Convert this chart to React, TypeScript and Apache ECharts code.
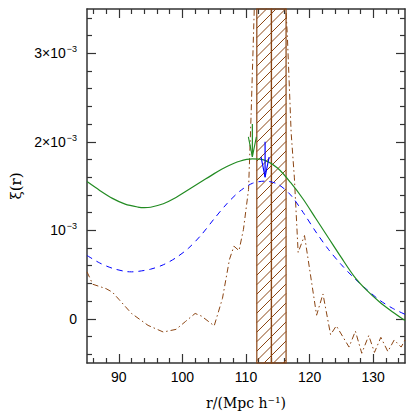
import React, { useEffect, useRef } from "react";
import * as echarts from "echarts";

// y values are in units of 1e-3
const X_MIN = 85;
const X_MAX = 135;
const Y_MIN = -0.5;
const Y_MAX = 3.5;

const xMajor = [90, 100, 110, 120, 130];
const xMinor = [86, 88, 92, 94, 96, 98, 102, 104, 106, 108, 112, 114, 116, 118, 122, 124, 126, 128, 132, 134];
const yMajor = [0, 1, 2, 3];
const yMinor = [-0.4, -0.2, 0.2, 0.4, 0.6, 0.8, 1.2, 1.4, 1.6, 1.8, 2.2, 2.4, 2.6, 2.8, 3.2, 3.4];
const yLabels = ["{n|0}", "{n|10}{s|−3}", "{n|2×10}{s|−3}", "{n|3×10}{s|−3}"];

const greenR = [85, 87, 89, 91, 93, 94, 95, 97, 99, 101, 103, 105, 107, 109, 111, 113, 115, 117, 119, 121, 123, 125, 127, 129, 131, 133, 135];
const greenXi = [1.55, 1.45, 1.36, 1.295, 1.262, 1.255, 1.26, 1.3, 1.37, 1.46, 1.55, 1.64, 1.72, 1.78, 1.806, 1.79, 1.7, 1.54, 1.35, 1.13, 0.91, 0.69, 0.48, 0.32, 0.19, 0.08, -0.02];

const blueR = [85, 87, 89, 91, 92, 93, 95, 97, 99, 101, 103, 105, 107, 109, 111, 113, 115, 117, 119, 121, 123, 125, 127, 129, 131, 133, 135];
const blueXi = [0.715, 0.63, 0.57, 0.535, 0.53, 0.535, 0.56, 0.61, 0.69, 0.8, 0.95, 1.13, 1.3, 1.44, 1.53, 1.555, 1.52, 1.4, 1.2, 0.98, 0.78, 0.61, 0.46, 0.33, 0.21, 0.12, 0.05];

const brownR = [85, 85.9, 88, 89, 90, 92, 94.6, 97, 99, 100.5, 102, 103, 105, 106.3, 107.4, 108.1, 108.9, 109.6, 110.4, 110.8, 111.3, 112, 113, 115, 116.2, 116.5, 117.1, 117.6, 118.2, 119.2, 121.1, 122.1, 123.3, 124.2, 126.2, 127.2, 128.2, 129.3, 130.2, 131.2, 132.3, 133.3, 134.4, 135];
const brownXi = [0.53, 0.39, 0.34, 0.3, 0.22, 0.06, -0.075, -0.15, -0.12, -0.03, 0.06, 0.03, -0.08, 0.23, 0.67, 0.82, 0.77, 1.01, 1.46, 2.3, 3.5, 4.8, 5.5, 5.5, 3.6, 3.2, 2.1, 1.6, 0.75, 0.94, 0.04, 0.28, -0.18, -0.08, -0.32, -0.14, -0.39, -0.19, -0.38, -0.21, -0.37, -0.24, -0.32, -0.24];

const bandLeft = [111.7, 114.0];
const bandRight = [114.0, 116.3];

const arrowR = [111.0, 113.0];
const arrowTop = [2.2, 2.0];
const arrowTip = [1.83, 1.6];
const arrowColors = ["#228B22", "#0000ff"];

const BROWN = "#8B4513";
const AXIS = "#333";

const zip = (a: number[], b: number[]) => a.map((v, i) => [v, b[i]]);

export default function App() {
  const ref = useRef<HTMLDivElement>(null);
  useEffect(() => {
    if (!ref.current) return;
    const chart = echarts.init(ref.current, null, { renderer: "svg" });
    const labelFont = { fontFamily: "Liberation Sans", fontSize: 14, color: "#000" };

    const mkX = (pos: string, ticks: number[], len: number, labels: boolean, line: boolean) => ({
      type: "value",
      position: pos,
      min: X_MIN,
      max: X_MAX,
      gridIndex: 0,
      splitLine: { show: false },
      axisLine: { show: line, onZero: false, lineStyle: { color: AXIS, width: 1.5 } },
      axisTick: { show: true, inside: true, length: len, customValues: ticks, lineStyle: { color: AXIS, width: 1.2 } },
      axisLabel: labels
        ? { show: true, customValues: xMajor, margin: 7, ...labelFont }
        : { show: false },
    });
    const mkY = (pos: string, ticks: number[], len: number, labels: boolean, line: boolean) => ({
      type: "value",
      position: pos,
      min: Y_MIN,
      max: Y_MAX,
      gridIndex: 0,
      splitLine: { show: false },
      axisLine: { show: line, onZero: false, lineStyle: { color: AXIS, width: 1.5 } },
      axisTick: { show: true, inside: true, length: len, customValues: ticks, lineStyle: { color: AXIS, width: 1.2 } },
      axisLabel: labels
        ? {
            show: true,
            customValues: yMajor,
            margin: 10,
            formatter: (v: number) => yLabels[yMajor.indexOf(Math.round(v))] ?? "",
            rich: {
              n: { fontFamily: "Liberation Sans", fontSize: 14, lineHeight: 14, padding: [4, 0, 4, 0], color: "#000" },
              s: { fontFamily: "Liberation Sans", fontSize: 9, lineHeight: 9, padding: [0, 0, 8, 1], color: "#000" },
            },
          }
        : { show: false },
    });

    const xAxes: any[] = [
      {
        ...mkX("bottom", xMajor, 9, true, true),
        name: "r/(Mpc h⁻¹)",
        nameLocation: "middle",
        nameGap: 33,
        nameTextStyle: { fontFamily: "DejaVu Serif", fontSize: 14, color: "#000" },
      },
      mkX("bottom", xMinor, 5, false, false),
      mkX("top", xMajor, 9, false, true),
      mkX("top", xMinor, 5, false, false),
    ];
    const yAxes: any[] = [
      {
        ...mkY("left", yMajor, 9, true, true),
        name: "ξ(r)",
        nameLocation: "middle",
        nameGap: 64,
        nameTextStyle: { fontFamily: "DejaVu Serif", fontSize: 15, color: "#000" },
      },
      mkY("left", yMinor, 5, false, false),
      mkY("right", yMajor, 9, false, true),
      mkY("right", yMinor, 5, false, false),
    ];

    const bandData = bandLeft.map((x0, i) => [x0, bandRight[i], Y_MIN]);
    const arrowData = arrowR.map((x, i) => [x, arrowTop[i], arrowTip[i]]);

    const option: any = {
      animation: false,
      grid: { left: 77, right: 10, top: 9, bottom: 51 },
      xAxis: xAxes,
      yAxis: yAxes,
      series: [
        {
          type: "custom",
          xAxisIndex: 0,
          yAxisIndex: 0,
          data: bandData,
          encode: { x: [0, 1], y: 2 },
          z: 1,
          renderItem: (params: any, api: any) => {
            const cs = params.coordSys;
            const xa = api.coord([api.value(0), Y_MAX])[0];
            const xb = api.coord([api.value(1), Y_MAX])[0];
            const ya = cs.y;
            const yb = cs.y + cs.height;
            const s = 9.5;
            const children: any[] = [];
            const kStart = Math.floor((xa + ya) / s);
            const kEnd = Math.ceil((xb + yb) / s);
            for (let k = kStart; k <= kEnd; k++) {
              const c = k * s;
              const xL = Math.max(xa, c - yb);
              const xR = Math.min(xb, c - ya);
              if (xR > xL) {
                children.push({
                  type: "line",
                  shape: { x1: xL, y1: c - xL, x2: xR, y2: c - xR },
                  style: { stroke: BROWN, lineWidth: 1 },
                });
              }
            }
            children.push({
              type: "rect",
              shape: { x: xa, y: ya, width: xb - xa, height: yb - ya },
              style: { fill: "none", stroke: BROWN, lineWidth: 1.2 },
            });
            return { type: "group", children };
          },
        },
        {
          type: "line",
          xAxisIndex: 0,
          yAxisIndex: 0,
          data: zip(brownR, brownXi),
          showSymbol: false,
          symbol: "none",
          z: 2,
          lineStyle: { color: BROWN, width: 1, type: [6, 3, 1.5, 3] },
        },
        {
          type: "line",
          xAxisIndex: 0,
          yAxisIndex: 0,
          data: zip(blueR, blueXi),
          showSymbol: false,
          symbol: "none",
          smooth: 0.3,
          z: 3,
          lineStyle: { color: "#0000ff", width: 1, type: [6, 5] },
        },
        {
          type: "line",
          xAxisIndex: 0,
          yAxisIndex: 0,
          data: zip(greenR, greenXi),
          showSymbol: false,
          symbol: "none",
          smooth: 0.3,
          z: 4,
          lineStyle: { color: "#228B22", width: 1.2 },
        },
        {
          type: "custom",
          xAxisIndex: 0,
          yAxisIndex: 0,
          data: arrowData,
          encode: { x: 0, y: [1, 2] },
          z: 5,
          renderItem: (params: any, api: any) => {
            const x = api.value(0);
            const top = api.coord([x, api.value(1)]);
            const tip = api.coord([x, api.value(2)]);
            const color = arrowColors[params.dataIndex];
            return {
              type: "group",
              children: [
                {
                  type: "line",
                  shape: { x1: top[0], y1: top[1], x2: tip[0], y2: tip[1] },
                  style: { stroke: color, lineWidth: 1.2 },
                },
                {
                  type: "polyline",
                  shape: { points: [[tip[0] - 4, tip[1] - 20], [tip[0], tip[1]], [tip[0] + 4, tip[1] - 20]] },
                  style: { stroke: color, lineWidth: 1.1, fill: "none" },
                },
              ],
            };
          },
        },
      ],
    };
    chart.setOption(option);
    return () => chart.dispose();
  }, []);
  return (
    <div
      ref={ref}
      style={{ position: "fixed", left: 0, top: 0, width: 415, height: 415, background: "#fff" }}
    />
  );
}
